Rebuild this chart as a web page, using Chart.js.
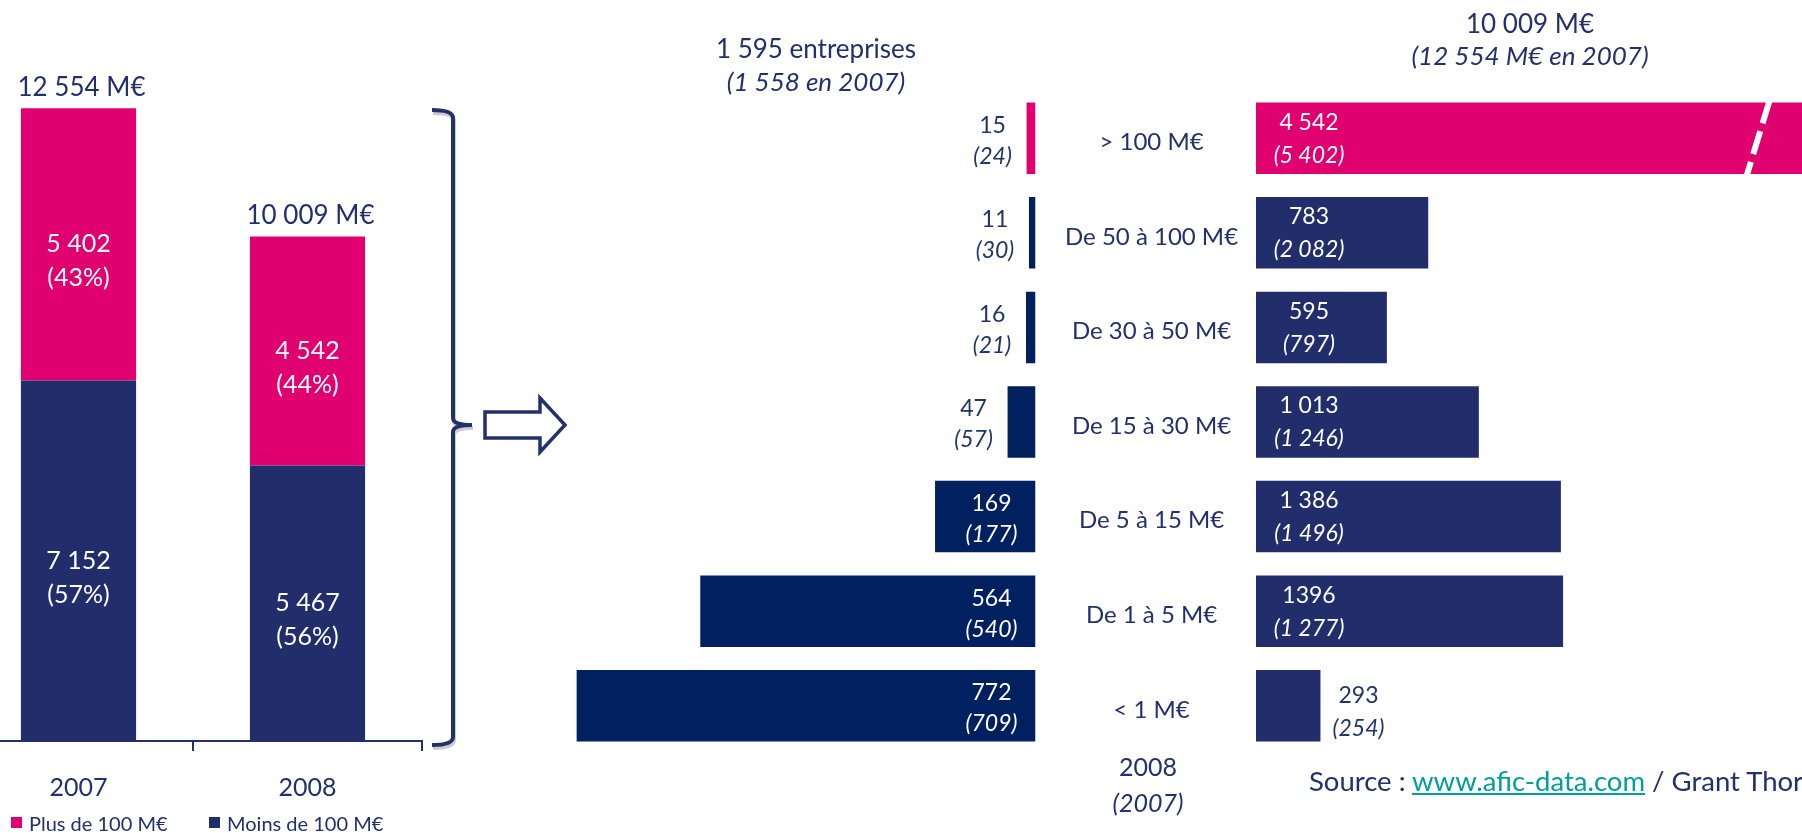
<!DOCTYPE html>
<html><head><meta charset="utf-8">
<script src="https://cdn.jsdelivr.net/npm/chart.js@4"></script>
<style>
html,body{margin:0;padding:0;background:#fff;width:1802px;height:833px;overflow:hidden;font-family:Lato,sans-serif;color:#22306C}
canvas{position:absolute}
.t{position:absolute;white-space:nowrap;line-height:1;color:#22306C}
.c{text-align:center;width:400px}
.i{font-style:italic}
.sq{position:absolute;width:11px;height:11px}
a{color:#00A09A;text-decoration:underline}
</style></head><body>
<canvas id="c1" width="460" height="825" style="left:-36px;top:0"></canvas>
<canvas id="c2" width="696" height="750" style="left:560px;top:47px"></canvas>
<canvas id="c3" width="546" height="662" style="left:1256px;top:91px"></canvas>
<svg style="position:absolute;left:0;top:0" width="1802" height="833">
  <path d="M432,110 Q453,110 453,118 L453,418 Q453,425 472,425 Q453,425 453,432 L453,737 Q453,745 432,745" fill="none" stroke="#A8A8B0" stroke-width="4" transform="translate(1,3)" opacity="0.6"/>
  <path d="M432,110 Q453,110 453,118 L453,418 Q453,425 472,425 Q453,425 453,432 L453,737 Q453,745 432,745" fill="none" stroke="#22306C" stroke-width="4"/>
  <polygon points="485,412 540,412 540,398 565,425 540,452 540,438 485,438" fill="#fff" stroke="#22306C" stroke-width="3.5" stroke-linejoin="miter"/>
</svg>
<div class="t c" style="left:616px;top:35px;font-size:26px">1 595 entreprises</div>
<div class="t c i" style="left:616px;top:68px;font-size:26px">(1 558 en 2007)</div>
<div class="t c" style="left:1330px;top:10px;font-size:26px">10 009 M€</div>
<div class="t c i" style="left:1330px;top:42px;font-size:26px">(12 554 M€ en 2007)</div>
<div class="t c" style="left:948px;top:754px;font-size:25px">2008</div>
<div class="t c i" style="left:948px;top:790px;font-size:25px">(2007)</div>
<div class="t" style="left:1309px;top:767px;font-size:27.5px">Source : <a>www.afic-data.com</a> / Grant Thornton</div>
<div class="sq" style="left:11px;top:817px;background:#E0006F"></div>
<div class="t" style="left:29px;top:813px;font-size:20px">Plus de 100 M€</div>
<div class="sq" style="left:209px;top:817px;background:#222E6C"></div>
<div class="t" style="left:227px;top:813px;font-size:20px">Moins de 100 M€</div>
<script>
// ---- Left chart data ----
const years = ['2007', '2008'];
const plus100 = [5402, 4542];
const moins100 = [7152, 5467];
const pctPlus = ['43%', '44%'];
const pctMoins = ['57%', '56%'];

// ---- Butterfly data ----
const sizeClasses = ['> 100 M€', 'De 50 à 100 M€', 'De 30 à 50 M€', 'De 15 à 30 M€', 'De 5 à 15 M€', 'De 1 à 5 M€', '< 1 M€'];
const companies2008 = [15, 11, 16, 47, 169, 564, 772];
const companies2007 = [24, 30, 21, 57, 177, 540, 709];
const amount2008 = [4542, 783, 595, 1013, 1386, 1396, 293];
const amount2007 = [5402, 2082, 797, 1246, 1496, 1277, 254];
const amountLabels2008 = ['4 542', '783', '595', '1 013', '1 386', '1396', '293'];
const amountBreakAt = 2280;

const PINK = '#E0006F', NAVY = '#222E6C', DARK = '#00205F', TXT = '#22306C', OUT = '#1F3566';
const fmt = n => String(n).replace(/\B(?=(\d{3})+(?!\d))/g, ' ');

Chart.defaults.font.family = 'Lato';
Chart.defaults.animation = false;

const leftLabels = {
  id: 'leftLabels',
  afterDatasetsDraw(chart) {
    const ctx = chart.ctx; ctx.save();
    const pcts = [pctMoins, pctPlus];
    chart.data.datasets.forEach((ds, di) => {
      chart.getDatasetMeta(di).data.forEach((bar, i) => {
        const c = (bar.y + bar.base) / 2;
        ctx.fillStyle = '#fff'; ctx.font = '25px Lato';
        ctx.textAlign = 'center'; ctx.textBaseline = 'middle';
        ctx.fillText(fmt(ds.data[i]), bar.x, c);
        ctx.fillText('(' + pcts[di][i] + ')', bar.x, c + 34);
      });
    });
    chart.getDatasetMeta(1).data.forEach((bar, i) => {
      ctx.fillStyle = TXT; ctx.font = '26px Lato';
      ctx.textAlign = 'center'; ctx.textBaseline = 'alphabetic';
      ctx.fillText(fmt(plus100[i] + moins100[i]) + ' M€', bar.x + 3, bar.y - 12);
    });
    ctx.restore();
  }
};

new Chart(document.getElementById('c1'), {
  type: 'bar',
  data: {
    labels: years,
    datasets: [
      { label: 'Moins de 100 M€', data: moins100, backgroundColor: NAVY },
      { label: 'Plus de 100 M€', data: plus100, backgroundColor: PINK }
    ]
  },
  options: {
    responsive: false, devicePixelRatio: 1,
    layout: { padding: { right: 2 } },
    plugins: { legend: { display: false }, tooltip: { enabled: false } },
    datasets: { bar: { categoryPercentage: 1, barPercentage: 0.503 } },
    scales: {
      x: {
        stacked: true,
        border: { display: true, color: TXT, width: 2 },
        grid: { display: true, drawOnChartArea: false, drawTicks: true, tickLength: 10, color: TXT, lineWidth: 2, offset: true },
        ticks: { color: TXT, font: { size: 25 }, padding: 22 }
      },
      y: { stacked: true, display: false, min: 0, max: 14700 }
    }
  },
  plugins: [leftLabels]
});

const leftButterflyLabels = {
  id: 'lbl',
  afterDatasetsDraw(chart) {
    const ctx = chart.ctx; ctx.save();
    ctx.textAlign = 'center'; ctx.textBaseline = 'middle';
    chart.getDatasetMeta(0).data.forEach((bar, i) => {
      const w = Math.abs(bar.base - bar.x);
      const inside = w > 60;
      const cx = inside ? bar.base - 44 : bar.x - 34;
      ctx.fillStyle = inside ? '#fff' : OUT;
      ctx.font = '23px Lato';
      ctx.fillText(fmt(companies2008[i]), cx, bar.y - 13);
      ctx.font = 'italic 23px Lato';
      ctx.fillText('(' + fmt(companies2007[i]) + ')', cx, bar.y + 18);
    });
    ctx.restore();
  }
};

new Chart(document.getElementById('c2'), {
  type: 'bar',
  data: {
    labels: sizeClasses,
    datasets: [{ label: 'Entreprises 2008', data: companies2008,
      backgroundColor: companies2008.map((v, i) => i === 0 ? PINK : DARK) }]
  },
  options: {
    indexAxis: 'y', responsive: false, devicePixelRatio: 1,
    plugins: { legend: { display: false }, tooltip: { enabled: false } },
    datasets: { bar: { categoryPercentage: 1, barPercentage: 0.756 } },
    scales: {
      x: { display: false, reverse: true, min: 0, max: 800 },
      y: {
        position: 'right',
        border: { display: false },
        grid: { display: false, drawTicks: false },
        ticks: { color: TXT, font: { size: 24 }, crossAlign: 'center', padding: 29.5, labelOffset: 4 },
        afterFit(scale) { scale.width = 220.5; }
      }
    }
  },
  plugins: [leftButterflyLabels]
});

const rightButterflyLabels = {
  id: 'rbl',
  afterDatasetsDraw(chart) {
    const ctx = chart.ctx; ctx.save();
    const xs = chart.scales.x;
    const meta = chart.getDatasetMeta(0);
    ctx.textAlign = 'center'; ctx.textBaseline = 'middle';
    meta.data.forEach((bar, i) => {
      const w = Math.abs(bar.x - bar.base);
      const inside = w > 100;
      const cx = inside ? bar.base + 53 : bar.x + 38;
      const dy = inside ? 0 : 6;
      ctx.fillStyle = inside ? '#fff' : OUT;
      ctx.font = '23px Lato';
      ctx.fillText(amountLabels2008[i], cx, bar.y - 16 + dy);
      ctx.font = 'italic 23px Lato';
      ctx.fillText('(' + fmt(amount2007[i]) + ')', cx, bar.y + 17 + dy);
      if (amount2008[i] > xs.max) {
        const px = xs.getPixelForValue(amountBreakAt);
        const top = bar.y - bar.height / 2, bot = bar.y + bar.height / 2;
        ctx.save();
        ctx.strokeStyle = '#fff'; ctx.lineWidth = 6; ctx.setLineDash([24, 8]);
        ctx.beginPath(); ctx.moveTo(px + 12, top - 2); ctx.lineTo(px - 11, bot + 2); ctx.stroke();
        ctx.restore();
      }
    });
    ctx.restore();
  }
};

new Chart(document.getElementById('c3'), {
  type: 'bar',
  data: {
    labels: sizeClasses,
    datasets: [{ label: 'Montants 2008', data: amount2008,
      backgroundColor: amount2008.map((v, i) => i === 0 ? PINK : NAVY) }]
  },
  options: {
    indexAxis: 'y', responsive: false, devicePixelRatio: 1,
    plugins: { legend: { display: false }, tooltip: { enabled: false } },
    datasets: { bar: { categoryPercentage: 1, barPercentage: 0.756 } },
    scales: {
      x: { display: false, min: 0, max: 2482 },
      y: { display: false }
    }
  },
  plugins: [rightButterflyLabels]
});
</script>
</body></html>
